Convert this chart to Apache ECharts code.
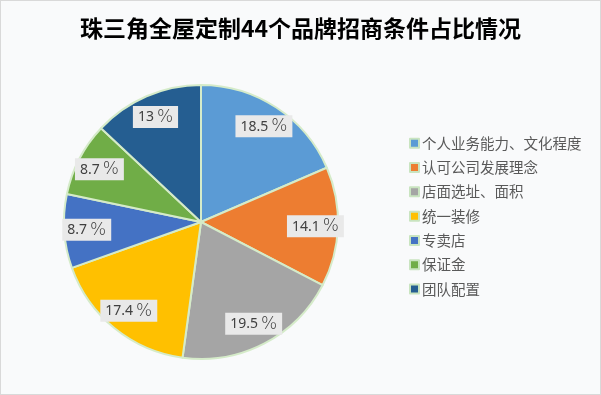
<!DOCTYPE html>
<html><head><meta charset="utf-8">
<script src="https://cdn.jsdelivr.net/npm/echarts@6/dist/echarts.min.js"></script>
<style>html,body{margin:0;padding:0;background:#fff}#c{position:absolute;left:0;top:0;width:599px;height:393px;border:1px solid #d9d9d9;background:#f9fafb}</style>
</head><body><div id="c"></div>
<script>
var titleText = '珠三角全屋定制44个品牌招商条件占比情况';
var categories = ['个人业务能力、文化程度','认可公司发展理念','店面选址、面积','统一装修','专卖店','保证金','团队配置'];
var values = [18.5, 14.1, 19.5, 17.4, 8.7, 8.7, 13];
var colors = ['#5B9BD5','#ED7D31','#A5A5A5','#FFC000','#4472C4','#70AD47','#255E91'];
var chart = echarts.init(document.getElementById('c'));
var data = categories.map(function(n,i){return {name:n,value:values[i]};});
chart.setOption({
  backgroundColor:'#f9fafb',
  color: colors,
  title:{text:titleText,left:'center',top:11,textStyle:{fontFamily:'Noto Sans CJK SC',fontWeight:'bold',fontSize:23,color:'#000'}},
  legend:{orient:'vertical',left:403,top:130,itemWidth:9,itemHeight:9,itemGap:9.8,icon:'rect',
    itemStyle:{borderColor:'#c9e4c0',borderWidth:2},
    textStyle:{fontFamily:'Noto Sans CJK SC',fontSize:14.5,color:'#595959',padding:[0,0,0,-2]},data:categories},
  series:[
    {type:'pie',radius:[0,137],center:[200,221],startAngle:90,clockwise:true,data:data,
     itemStyle:{borderColor:'#d5ebc9',borderWidth:2},label:{show:false},labelLine:{show:false},emphasis:{disabled:true},silent:true},
    {type:'pie',radius:[86,137],center:[200,221],startAngle:90,clockwise:true,data:data,silent:true,emphasis:{disabled:true},
     itemStyle:{color:'rgba(0,0,0,0)',borderWidth:0},labelLine:{show:false},
     label:{show:true,position:'inside',formatter:function(p){return '{v|'+p.value+'}{p|%}';},
       backgroundColor:'#e9e9e9',padding:[3,5,2,5],
       rich:{v:{fontFamily:'Noto Sans',fontSize:14,color:'#404040'},
             p:{fontFamily:'DejaVu Sans',fontWeight:200,fontSize:17,color:'#404040',padding:[0,0,0,3]}}}}
  ]
});
</script></body></html>
